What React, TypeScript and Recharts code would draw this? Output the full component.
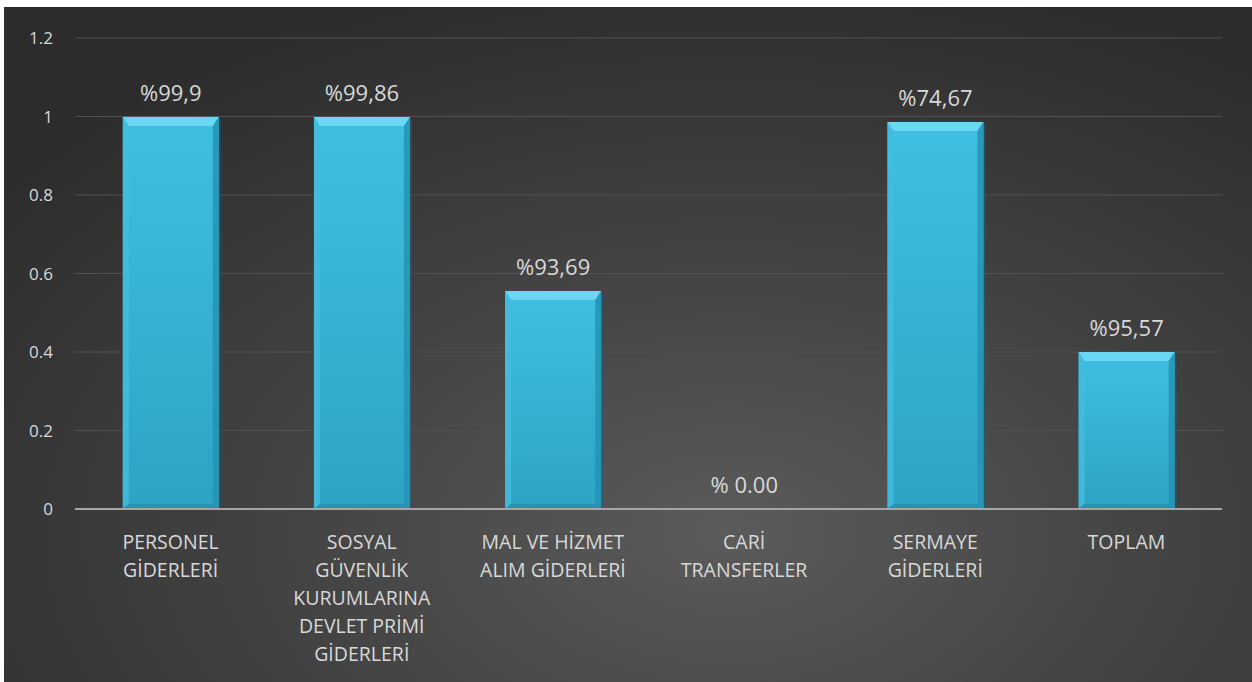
import { BarChart, Bar, CartesianGrid, XAxis, YAxis, LabelList } from "recharts";

const categories = [
  "PERSONEL\nGİDERLERİ",
  "SOSYAL\nGÜVENLİK\nKURUMLARINA\nDEVLET PRİMİ\nGİDERLERİ",
  "MAL VE HİZMET\nALIM GİDERLERİ",
  "CARİ\nTRANSFERLER",
  "SERMAYE\nGİDERLERİ",
  "TOPLAM",
];
const values = [0.999, 0.9986, 0.5555, 0, 0.986, 0.4];
const valueLabels = ["%99,9", "%99,86", "%93,69", "% 0.00", "%74,67", "%95,57"];
const yTicks = [0, 0.2, 0.4, 0.6, 0.8, 1, 1.2];

const data = categories.map((name, i) => ({ name, value: values[i], label: valueLabels[i] }));

const FONT = "'Open Sans', sans-serif";
const TEXT = "#d9d9d9";

const BevelBar = (props: any) => {
  const { x, y, width: w, height: h } = props;
  if (!h || h <= 0) return null;
  const b = 6;
  const bt = Math.min(9, h / 3);
  const bb = Math.min(5, h / 4);
  return (
    <g>
      <rect x={x + w} y={y + 2} width={2} height={h - 2} fill="#1e5f73" opacity={0.6} />
      <rect x={x} y={y} width={w} height={h} fill="url(#barFill)" />
      <polygon points={`${x},${y} ${x + w},${y} ${x + w - b},${y + bt} ${x + b},${y + bt}`} fill="#6cd7f2" />
      <polygon points={`${x},${y} ${x + b},${y + bt} ${x + b},${y + h - bb} ${x},${y + h}`} fill="#42bde0" opacity={0.8} />
      <polygon points={`${x + w},${y} ${x + w - b},${y + bt} ${x + w - b},${y + h - bb} ${x + w},${y + h}`} fill="#2693b3" opacity={0.85} />
      <polygon points={`${x},${y + h} ${x + b},${y + h - bb} ${x + w - b},${y + h - bb} ${x + w},${y + h}`} fill="#2793b2" />
    </g>
  );
};

const CategoryTick = (props: any) => {
  const { x, y, payload } = props;
  const lines = String(payload.value).split("\n");
  return (
    <g transform={`translate(${x},${y})`}>
      {lines.map((line, i) => (
        <text key={i} x={0} y={32 + i * 28} textAnchor="middle" fill={TEXT} fontSize={19.5} fontFamily={FONT}>
          {line}
        </text>
      ))}
    </g>
  );
};

export default function App() {
  return (
    <div
      style={{
        position: "absolute",
        left: 4,
        top: 7,
        width: 1248,
        height: 675,
        background: "radial-gradient(ellipse 75% 85% at 58% 78%, #5b5b5b 0%, #444444 45%, #2c2c2c 100%)",
      }}
    >
      <BarChart
        width={1248}
        height={675}
        data={data}
        margin={{ top: 31, right: 30, left: 0, bottom: 10 }}
        barCategoryGap="25%"
      >
        <defs>
          <linearGradient id="barFill" x1="0" y1="0" x2="0" y2="1">
            <stop offset="0%" stopColor="#3fbfe2" />
            <stop offset="100%" stopColor="#2ea3c4" />
          </linearGradient>
        </defs>
        <CartesianGrid vertical={false} stroke="#505050" strokeWidth={1} />
        <XAxis
          dataKey="name"
          interval={0}
          height={163}
          axisLine={{ stroke: "#a6a6a6", strokeWidth: 2 }}
          tickLine={false}
          tick={<CategoryTick />}
        />
        <YAxis
          domain={[0, 1.2]}
          ticks={yTicks}
          width={71}
          axisLine={false}
          tickLine={false}
          tickSize={0}
          tickMargin={22}
          tick={{ fill: TEXT, fontSize: 17, fontFamily: FONT }}
        />
        <Bar dataKey="value" shape={<BevelBar />} isAnimationActive={false}>
          <LabelList dataKey="label" position="top" offset={16} fill={TEXT} fontSize={22} fontFamily={FONT} />
        </Bar>
      </BarChart>
    </div>
  );
}
